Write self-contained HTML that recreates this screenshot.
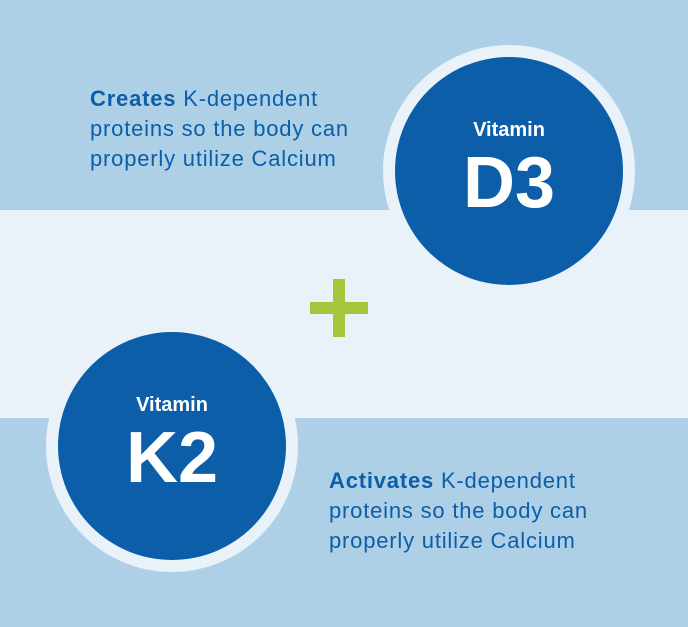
<!DOCTYPE html>
<html><head><meta charset="utf-8"><style>
html,body{margin:0;padding:0}
body{width:688px;height:627px;position:relative;overflow:hidden;background:#e9f1f9;font-family:"Liberation Sans",sans-serif}
.band{position:absolute;left:0;width:688px;background:#aed0e6}
.ring{position:absolute;border-radius:50%;background:#e9f1f9}
.circ{position:absolute;border-radius:50%;background:#0b5ea7;color:#fff;text-align:center}
.txt{position:absolute;color:#0b5ea7;font-size:22px;line-height:30px;letter-spacing:0.8px;white-space:nowrap}
.v{position:absolute;left:0;right:0;font-size:20px;font-weight:bold}
.big{position:absolute;left:0;right:0;font-size:72px;font-weight:bold;line-height:72px}
</style></head><body>
<div class="band" style="top:0;height:210px"></div>
<div class="band" style="top:418px;height:209px"></div>
<div class="ring" style="left:383px;top:45px;width:252px;height:252px"></div>
<div class="circ" style="left:395px;top:57px;width:228px;height:228px">
 <div class="v" style="top:62px">Vitamin</div>
 <div class="big" style="top:90px">D3</div>
</div>
<div class="ring" style="left:46px;top:320px;width:252px;height:252px"></div>
<div class="circ" style="left:58px;top:332px;width:228px;height:228px">
 <div class="v" style="top:62px">Vitamin</div>
 <div class="big" style="top:90px">K2</div>
</div>
<div style="position:absolute;left:310px;top:302px;width:58px;height:12px;background:#a5c53a"></div>
<div style="position:absolute;left:333px;top:279px;width:12px;height:58px;background:#a5c53a"></div>
<div class="txt" style="left:90px;top:84px"><b>Creates</b> K-dependent<br>proteins so the body can<br>properly utilize Calcium</div>
<div class="txt" style="left:329px;top:466px"><b>Activates</b> K-dependent<br>proteins so the body can<br>properly utilize Calcium</div>
</body></html>
